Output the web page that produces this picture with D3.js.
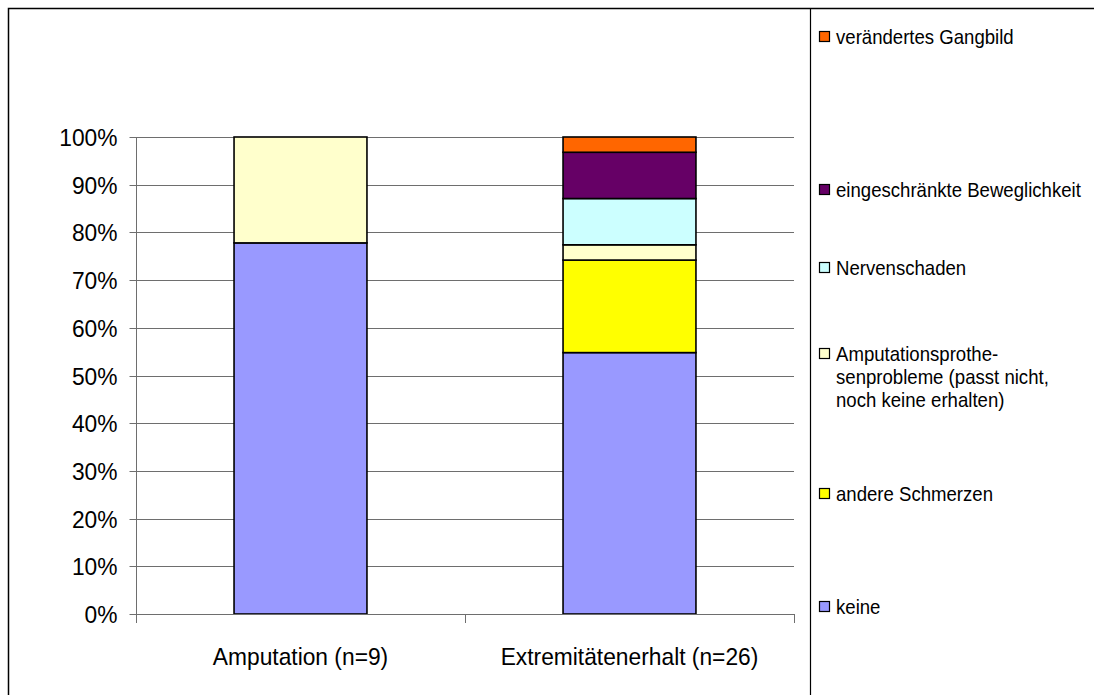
<!DOCTYPE html>
<html><head><meta charset="utf-8">
<script src="https://cdn.jsdelivr.net/npm/d3@7"></script>
<style>html,body{margin:0;padding:0;background:#fff}svg{display:block}text{font-family:"Liberation Sans",Arial,sans-serif;fill:#000}</style>
</head><body>
<script>
const categories = ["Amputation (n=9)", "Extremitätenerhalt (n=26)"];
const seriesNames = ["keine", "andere Schmerzen", "Amputationsprothesenprobleme (passt nicht, noch keine erhalten)", "Nervenschaden", "eingeschränkte Beweglichkeit", "verändertes Gangbild"];
const keine = [77.8, 54.8];
const andereSchmerzen = [0, 19.4];
const prothesenprobleme = [22.2, 3.2];
const nervenschaden = [0, 9.7];
const beweglichkeit = [0, 9.7];
const gangbild = [0, 3.2];
const tickValues = [0,10,20,30,40,50,60,70,80,90,100];
const tickLabels = ["0%","10%","20%","30%","40%","50%","60%","70%","80%","90%","100%"];
const legendLines = [
  ["verändertes Gangbild"],
  ["eingeschränkte Beweglichkeit"],
  ["Nervenschaden"],
  ["Amputationsprothe-","senprobleme (passt nicht,","noch keine erhalten)"],
  ["andere Schmerzen"],
  ["keine"]
];
const colors = ["#9999FF","#FFFF00","#FFFFCC","#CCFFFF","#660066","#FF6600"];

const W=1094,H=695;
const svg=d3.select("body").append("svg").attr("width",W).attr("height",H);
// frame
svg.append("rect").attr("x",8.5).attr("y",8.5).attr("width",W+10).attr("height",H+10).attr("fill","none").attr("stroke","#000").attr("stroke-width",1.5);
svg.append("line").attr("x1",810.5).attr("x2",810.5).attr("y1",8).attr("y2",H).attr("stroke","#000").attr("stroke-width",1.2);

const allSeries=[keine,andereSchmerzen,prothesenprobleme,nervenschaden,beweglichkeit,gangbild];
const table=categories.map((c,i)=>{const o={cat:c};seriesNames.forEach((s,j)=>o[s]=allSeries[j][i]);return o;});
const stack=d3.stack().keys(seriesNames)(table);

const x=d3.scaleBand().domain(categories).range([136,794]).paddingInner(0.596).paddingOuter(0.298);
const y=d3.scaleLinear().domain([0,100]).range([614,137]);

// gridlines
svg.append("g").selectAll("line").data(tickValues.filter(v=>v>0)).join("line")
 .attr("x1",136).attr("x2",794).attr("y1",d=>Math.round(y(d))+0.5).attr("y2",d=>Math.round(y(d))+0.5)
 .attr("stroke","#6e6e6e").attr("stroke-width",1);

// y axis
const ya=svg.append("g").attr("transform","translate(136.5,0)");
ya.append("line").attr("y1",y(100)).attr("y2",y(0)).attr("stroke","#6e6e6e");
ya.selectAll("line.t").data(tickValues).join("line").attr("class","t")
 .attr("x1",-7).attr("x2",0).attr("y1",d=>Math.round(y(d))+0.5).attr("y2",d=>Math.round(y(d))+0.5).attr("stroke","#6e6e6e");
ya.selectAll("text").data(tickValues).join("text")
 .attr("transform",d=>`translate(-19,${y(d)+9}) scale(0.95,1)`)
 .attr("text-anchor","end").attr("font-size",24).text((d,i)=>tickLabels[i]);

// bars
svg.append("g").selectAll("g").data(stack).join("g").attr("fill",(d,i)=>colors[i])
 .selectAll("rect").data(d=>d.filter(p=>p[1]-p[0]>0)).join("rect")
 .attr("x",d=>x(d.data.cat)).attr("width",x.bandwidth())
 .attr("y",d=>y(d[1])).attr("height",d=>y(d[0])-y(d[1]))
 .attr("stroke","#000").attr("stroke-width",1.6);

// x axis
const xa=svg.append("g");
xa.append("line").attr("x1",136).attr("x2",794).attr("y1",614.5).attr("y2",614.5).attr("stroke","#6e6e6e");
const bounds=d3.range(categories.length+1).map(i=>136+i*x.step());
xa.selectAll("line.t").data(bounds).join("line").attr("class","t")
 .attr("x1",d=>Math.round(d)+0.5).attr("x2",d=>Math.round(d)+0.5).attr("y1",614).attr("y2",623).attr("stroke","#6e6e6e");
xa.selectAll("text").data(categories).join("text")
 .attr("transform",d=>`translate(${x(d)+x.bandwidth()/2},665) scale(0.95,1)`)
 .attr("text-anchor","middle").attr("font-size",24).text(d=>d);

// legend
const legY=[44,197,275,361,501,614];
const lg=svg.append("g");
legendLines.forEach((lines,i)=>{
  const ci=colors.length-1-i;
  const g=lg.append("g").attr("transform",`translate(819,${legY[i]})`);
  g.append("rect").attr("x",0.5).attr("y",-12.5).attr("width",10).attr("height",10).attr("fill",colors[ci]).attr("stroke","#000").attr("stroke-width",1.2);
  lines.forEach((t,k)=>{
    g.append("text").attr("transform",`translate(17,${k*23}) scale(0.93,1)`).attr("font-size",20).text(t);
  });
});
</script>
</body></html>
